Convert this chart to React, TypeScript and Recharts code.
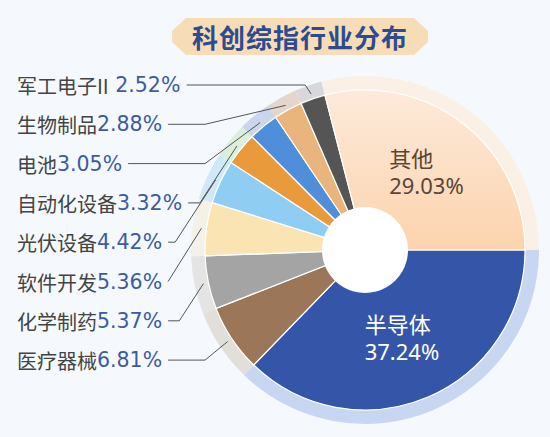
import { PieChart, Pie, Cell } from "recharts"

// industry weights (%), order = clockwise from 3 o'clock
const NAMES = [
  "半导体",
  "医疗器械",
  "化学制药",
  "软件开发",
  "光伏设备",
  "自动化设备",
  "电池",
  "生物制品",
  "军工电子II",
  "其他",
]
const WEIGHTS = [37.24, 6.81, 5.37, 5.36, 4.42, 3.32, 3.05, 2.88, 2.52, 29.03]

const COLORS = [
  "#3556a8",
  "#9b7658",
  "#a4a4a4",
  "#fbe4b3",
  "#8fcdf2",
  "#e99a3a",
  "#4f8fd9",
  "#eab57c",
  "#555555",
  "url(#otherGrad)",
]
const RIM_COLORS = [
  "#c9d6f2",
  "#e2dfdb",
  "#e4e4e4",
  "#f4f1e8",
  "#d0e9f8",
  "#dcefdd",
  "#cbd6ea",
  "#e4d6cd",
  "#d8d8dc",
  "#fbf0e6",
]

const CX = 360
const CY = 245
const RAD = Math.PI / 180

const data = NAMES.map((name, i) => ({ name, value: WEIGHTS[i] }))

function textWidth(s: string, cjkSize: number, latinSize: number) {
  let w = 0
  for (const ch of s) {
    if (ch.charCodeAt(0) > 0x2e80) w += cjkSize
    else if (ch >= "0" && ch <= "9") w += 0.636 * latinSize
    else if (ch === ".") w += 0.318 * latinSize
    else if (ch === "%") w += 0.95 * latinSize
    else if (ch === " ") w += 0.318 * latinSize
    else w += 0.3 * latinSize
  }
  return w
}

function renderLabel(props: any) {
  const { cx, cy, midAngle, index, name, value } = props
  const pct = `${Number(value).toFixed(2)}%`
  const last = NAMES.length - 1

  if (index === 0 || index === last) {
    // big slices: two-line label inside the slice
    const r = index === 0 ? 94 : 100
    const x = cx + r * Math.cos(-midAngle * RAD) - 37
    const y = cy + r * Math.sin(-midAngle * RAD)
    const fill = index === 0 ? "#ffffff" : "#5a4536"
    const font = "'Noto Sans CJK SC', 'Noto Sans', sans-serif"
    return (
      <g>
        <text x={x} y={y - 14} fill={fill} fontSize={22} fontFamily={font} dominantBaseline="central">
          {name}
        </text>
        <text
          x={x}
          y={y + 14}
          fill={fill}
          fontSize={22}
          fontFamily="'Noto Sans', sans-serif"
          dominantBaseline="central"
        >
          {pct}
        </text>
      </g>
    )
  }

  // small slices: left column with leader lines
  const row = last - 1 - index
  const y = 85 + row * 39.3
  const x0 = 17
  const valText = /[A-Za-z]$/.test(name) ? ` ${pct}` : pct
  const nameW = textWidth(name, 20, 20)
  const endX = x0 + nameW + textWidth(valText, 20, 20.5)
  const px = cx + 165 * Math.cos(-midAngle * RAD)
  const py = cy + 165 * Math.sin(-midAngle * RAD)
  const sx = endX + 6
  const dy = Math.abs(py - y)
  const ex = dy < 15 ? px - dy * 0.65 : Math.max(sx, Math.min(px - dy * 0.65, 205))

  return (
    <g>
      <text x={x0} y={y} dominantBaseline="central" fontSize={20}>
        <tspan fill="#444444" fontFamily="'Noto Sans CJK SC', sans-serif">{name}</tspan>
        <tspan fill="#3d5ba0" fontFamily="'DejaVu Sans', sans-serif" fontSize={20.5}>{valText}</tspan>
      </text>
      <polyline
        points={`${sx},${y} ${ex},${y} ${px},${py}`}
        fill="none"
        stroke="#555555"
        strokeWidth={1}
      />
    </g>
  )
}

export default function App() {
  return (
    <div
      style={{
        position: "absolute",
        left: 0,
        top: 0,
        width: 550,
        height: 437,
        background: "#f5f9fd",
        overflow: "hidden",
      }}
    >
      <div
        style={{
          position: "absolute",
          left: 172,
          top: 18,
          width: 256,
          height: 37,
          background: "#f6ddb8",
          clipPath:
            "polygon(14px 0, calc(100% - 14px) 0, 100% 35%, 100% 65%, calc(100% - 14px) 100%, 14px 100%, 0 65%, 0 35%)",
          display: "flex",
          alignItems: "center",
          justifyContent: "center",
          color: "#2f4b8f",
          fontWeight: 700,
          fontSize: 26,
          letterSpacing: 1,
          fontFamily: "'Noto Sans CJK SC', sans-serif",
        }}
      >
        科创综指行业分布
      </div>
      <PieChart width={550} height={437} style={{ position: "absolute", left: 0, top: 0 }}>
        <defs>
          <linearGradient id="otherGrad" x1="0" y1="0" x2="0" y2="1">
            <stop offset="0%" stopColor="#fdeadb" />
            <stop offset="100%" stopColor="#fcd3ad" />
          </linearGradient>
        </defs>
        <Pie
          data={data}
          dataKey="value"
          cx={CX}
          cy={CY}
          startAngle={0}
          endAngle={-360}
          innerRadius={158}
          outerRadius={174}
          stroke="none"
          isAnimationActive={false}
        >
          {data.map((d, i) => (
            <Cell key={d.name} fill={RIM_COLORS[i]} />
          ))}
        </Pie>
        <Pie
          data={data}
          dataKey="value"
          cx={CX}
          cy={CY}
          startAngle={0}
          endAngle={-360}
          innerRadius={0}
          outerRadius={160}
          stroke="#ffffff"
          strokeWidth={1.2}
          label={renderLabel}
          labelLine={false}
          isAnimationActive={false}
        >
          {data.map((d, i) => (
            <Cell key={d.name} fill={COLORS[i]} />
          ))}
        </Pie>
        <Pie
          data={[{ name: "hole", value: 1 }]}
          dataKey="value"
          cx={CX}
          cy={CY}
          outerRadius={43}
          fill="#ffffff"
          stroke="none"
          isAnimationActive={false}
        />
      </PieChart>
    </div>
  )
}
